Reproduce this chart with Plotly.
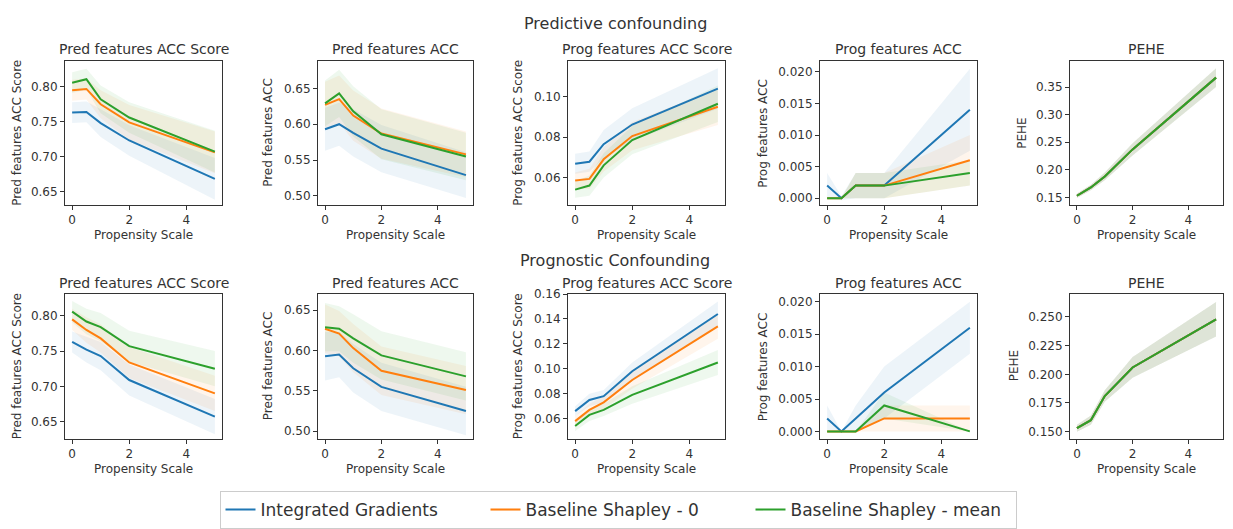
import plotly.graph_objects as go

W, H = 1233, 529

X = [0, 0.5, 1, 2, 5]
SERIES = ["Integrated Gradients", "Baseline Shapley - 0", "Baseline Shapley - mean"]
COLORS = ["#1f77b4", "#ff7f0e", "#2ca02c"]
BANDS = ["rgba(31,119,180,0.08)", "rgba(255,127,14,0.08)", "rgba(44,160,44,0.08)"]

# ---- Predictive confounding (row 1) ----
PC_PRED_SCORE = [[0.763, 0.764, 0.748, 0.723, 0.668],
                 [0.795, 0.797, 0.775, 0.749, 0.706],
                 [0.806, 0.811, 0.782, 0.756, 0.707]]
PC_PRED_SCORE_CI = [[0.015, 0.015, 0.020, 0.022, 0.030],
                    [0.015, 0.015, 0.020, 0.025, 0.030],
                    [0.015, 0.015, 0.020, 0.022, 0.030]]
PC_PRED_ACC = [[0.593, 0.600, 0.588, 0.566, 0.529],
               [0.627, 0.635, 0.612, 0.587, 0.558],
               [0.629, 0.643, 0.618, 0.586, 0.555]]
PC_PRED_ACC_CI = [[0.030, 0.030, 0.033, 0.033, 0.032],
                  [0.032, 0.033, 0.035, 0.035, 0.032],
                  [0.032, 0.033, 0.035, 0.035, 0.033]]
PC_PROG_SCORE = [[0.0668, 0.0678, 0.0765, 0.0862, 0.1040],
                 [0.0585, 0.0593, 0.0690, 0.0805, 0.0950],
                 [0.0540, 0.0560, 0.0660, 0.0785, 0.0965]]
PC_PROG_SCORE_CI = [[0.005, 0.005, 0.007, 0.008, 0.010],
                    [0.004, 0.005, 0.006, 0.007, 0.009],
                    [0.004, 0.005, 0.006, 0.007, 0.009]]
PC_PROG_ACC = [[0.002, 0.000, 0.002, 0.002, 0.014],
               [0.000, 0.000, 0.002, 0.002, 0.006],
               [0.000, 0.000, 0.002, 0.002, 0.004]]
PC_PROG_ACC_CI = [[0.002, 0.0003, 0.002, 0.002, 0.0065],
                  [0.000, 0.000, 0.002, 0.002, 0.004],
                  [0.000, 0.000, 0.002, 0.002, 0.002]]
PC_PEHE = [[0.153, 0.168, 0.188, 0.237, 0.367],
           [0.153, 0.168, 0.188, 0.237, 0.367],
           [0.153, 0.168, 0.188, 0.237, 0.367]]
PC_PEHE_CI = [[0.004, 0.005, 0.007, 0.011, 0.017],
              [0.004, 0.005, 0.007, 0.011, 0.017],
              [0.004, 0.005, 0.007, 0.011, 0.017]]

# ---- Prognostic Confounding (row 2) ----
PG_PRED_SCORE = [[0.763, 0.752, 0.743, 0.709, 0.657],
                 [0.795, 0.780, 0.768, 0.734, 0.690],
                 [0.806, 0.792, 0.784, 0.757, 0.725]]
PG_PRED_SCORE_CI = [[0.015, 0.018, 0.020, 0.022, 0.025],
                    [0.015, 0.018, 0.020, 0.022, 0.025],
                    [0.015, 0.018, 0.020, 0.022, 0.025]]
PG_PRED_ACC = [[0.593, 0.595, 0.578, 0.555, 0.525],
               [0.627, 0.621, 0.603, 0.575, 0.551],
               [0.629, 0.627, 0.615, 0.594, 0.568]]
PG_PRED_ACC_CI = [[0.030, 0.028, 0.030, 0.030, 0.030],
                  [0.030, 0.028, 0.030, 0.030, 0.030],
                  [0.030, 0.028, 0.030, 0.030, 0.030]]
PG_PROG_SCORE = [[0.066, 0.075, 0.078, 0.098, 0.144],
                 [0.058, 0.067, 0.073, 0.091, 0.134],
                 [0.054, 0.063, 0.067, 0.079, 0.105]]
PG_PROG_SCORE_CI = [[0.004, 0.005, 0.005, 0.007, 0.010],
                    [0.004, 0.005, 0.005, 0.007, 0.010],
                    [0.004, 0.005, 0.005, 0.007, 0.010]]
PG_PROG_ACC = [[0.002, 0.000, 0.002, 0.006, 0.016],
               [0.000, 0.000, 0.000, 0.002, 0.002],
               [0.000, 0.000, 0.000, 0.004, 0.000]]
PG_PROG_ACC_CI = [[0.002, 0.000, 0.002, 0.004, 0.004],
                  [0.000, 0.000, 0.000, 0.002, 0.002],
                  [0.000, 0.000, 0.000, 0.002, 0.000]]
PG_PEHE = [[0.153, 0.160, 0.181, 0.206, 0.248],
           [0.153, 0.160, 0.181, 0.206, 0.248],
           [0.153, 0.160, 0.181, 0.206, 0.248]]
PG_PEHE_CI = [[0.003, 0.004, 0.005, 0.009, 0.015],
              [0.003, 0.004, 0.005, 0.009, 0.015],
              [0.003, 0.004, 0.005, 0.009, 0.015]]

TITLES = ["Pred features ACC Score", "Pred features ACC", "Prog features ACC Score",
          "Prog features ACC", "PEHE"]
ROW_TITLES = ["Predictive confounding", "Prognostic Confounding"]
X_LABEL = "Propensity Scale"
X_TICKS = [0, 2, 4]

PANELS = [
    (PC_PRED_SCORE, PC_PRED_SCORE_CI, [0.631, 0.837], 0.05, ".2f"),
    (PC_PRED_ACC, PC_PRED_ACC_CI, [0.488, 0.688], 0.05, ".2f"),
    (PC_PROG_SCORE, PC_PROG_SCORE_CI, [0.0466, 0.1176], 0.02, ".2f"),
    (PC_PROG_ACC, PC_PROG_ACC_CI, [-0.001, 0.0217], 0.005, ".3f"),
    (PC_PEHE, PC_PEHE_CI, [0.137, 0.397], 0.05, ".2f"),
    (PG_PRED_SCORE, PG_PRED_SCORE_CI, [0.626, 0.831], 0.05, ".2f"),
    (PG_PRED_ACC, PG_PRED_ACC_CI, [0.491, 0.670], 0.05, ".2f"),
    (PG_PROG_SCORE, PG_PROG_SCORE_CI, [0.044, 0.160], 0.02, ".2f"),
    (PG_PROG_ACC, PG_PROG_ACC_CI, [-0.0011, 0.0212], 0.005, ".3f"),
    (PG_PEHE, PG_PEHE_CI, [0.144, 0.270], 0.025, ".3f"),
]

# layout geometry (pixels)
COL_X = [(65, 222), (318, 473), (568, 725), (820, 977), (1070, 1223)]
ROW_Y = [(55, 201), (292, 439)]
YTITLE_X = [[17, 268, 518, 763, 1022], [17, 268, 518, 763, 1014]]
TITLE_Y = [43, 281]
SUPTITLE_Y = [17, 258]
XTITLE_Y = [232, 470]

TXT = "#333333"
FONT = "DejaVu Sans"

fig = go.Figure()
annotations = []
layout_axes = {}

for idx, (means, cis, yr, dt, fmt) in enumerate(PANELS):
    r, c = divmod(idx, 5)
    n = idx + 1
    xa = "x" if n == 1 else f"x{n}"
    ya = "y" if n == 1 else f"y{n}"
    x0, x1 = COL_X[c]
    yt, yb = ROW_Y[r]
    layout_axes["xaxis" if n == 1 else f"xaxis{n}"] = dict(
        domain=[x0 / W, x1 / W], anchor=ya, range=[-0.25, 5.25],
        tickvals=X_TICKS, ticks="outside", ticklen=4, tickcolor=TXT,
        showline=True, linecolor=TXT, linewidth=1, mirror=True,
        showgrid=False, zeroline=False, tickfont=dict(size=12, color=TXT, family=FONT))
    layout_axes["yaxis" if n == 1 else f"yaxis{n}"] = dict(
        domain=[1 - yb / H, 1 - yt / H], anchor=xa, range=yr, dtick=dt, tick0=0,
        tickformat=fmt, ticks="outside", ticklen=4, tickcolor=TXT,
        showline=True, linecolor=TXT, linewidth=1, mirror=True,
        showgrid=False, zeroline=False, tickfont=dict(size=12, color=TXT, family=FONT))
    # bands
    for s in range(3):
        lo = [m - e for m, e in zip(means[s], cis[s])]
        hi = [m + e for m, e in zip(means[s], cis[s])]
        fig.add_trace(go.Scatter(x=X, y=lo, xaxis=xa, yaxis=ya, mode="lines",
                                 line=dict(width=0), showlegend=False, hoverinfo="skip"))
        fig.add_trace(go.Scatter(x=X, y=hi, xaxis=xa, yaxis=ya, mode="lines",
                                 line=dict(width=0), fill="tonexty", fillcolor=BANDS[s],
                                 showlegend=False, hoverinfo="skip"))
    # lines
    for s in range(3):
        fig.add_trace(go.Scatter(x=X, y=means[s], xaxis=xa, yaxis=ya, mode="lines",
                                 line=dict(color=COLORS[s], width=2),
                                 name=SERIES[s], showlegend=(idx == 0)))
    # subplot title
    annotations.append(dict(text=TITLES[c], x=(x0 + x1) / 2 / W, y=1 - TITLE_Y[r] / H,
                            xref="paper", yref="paper", showarrow=False,
                            xanchor="center", yanchor="middle",
                            font=dict(size=14, color=TXT, family=FONT)))
    # y title
    annotations.append(dict(text=TITLES[c], x=YTITLE_X[r][c] / W, y=1 - (yt + yb) / 2 / H,
                            xref="paper", yref="paper", showarrow=False, textangle=-90,
                            xanchor="center", yanchor="middle",
                            font=dict(size=12, color=TXT, family=FONT)))
    # x title
    annotations.append(dict(text=X_LABEL, x=(x0 + x1) / 2 / W, y=1 - XTITLE_Y[r] / H,
                            xref="paper", yref="paper", showarrow=False,
                            xanchor="center", yanchor="middle",
                            font=dict(size=12, color=TXT, family=FONT)))

for r in range(2):
    annotations.append(dict(text=ROW_TITLES[r], x=615 / W, y=1 - SUPTITLE_Y[r] / H,
                            xref="paper", yref="paper", showarrow=False,
                            xanchor="center", yanchor="middle",
                            font=dict(size=16, color=TXT, family=FONT)))

fig.update_layout(
    width=W, height=H, margin=dict(l=0, r=0, t=0, b=0),
    paper_bgcolor="white", plot_bgcolor="white",
    font=dict(family=FONT, color=TXT),
    annotations=annotations,
    showlegend=True,
    legend=dict(orientation="h", x=618 / W, y=1 - 512 / H, xanchor="center", yanchor="middle",
                traceorder="normal", entrywidth=220, entrywidthmode="pixels",
                bordercolor="#cccccc", borderwidth=1, bgcolor="white",
                font=dict(size=17, color=TXT, family=FONT), itemwidth=30),
    **layout_axes,
)

fig.write_html("out.html")
